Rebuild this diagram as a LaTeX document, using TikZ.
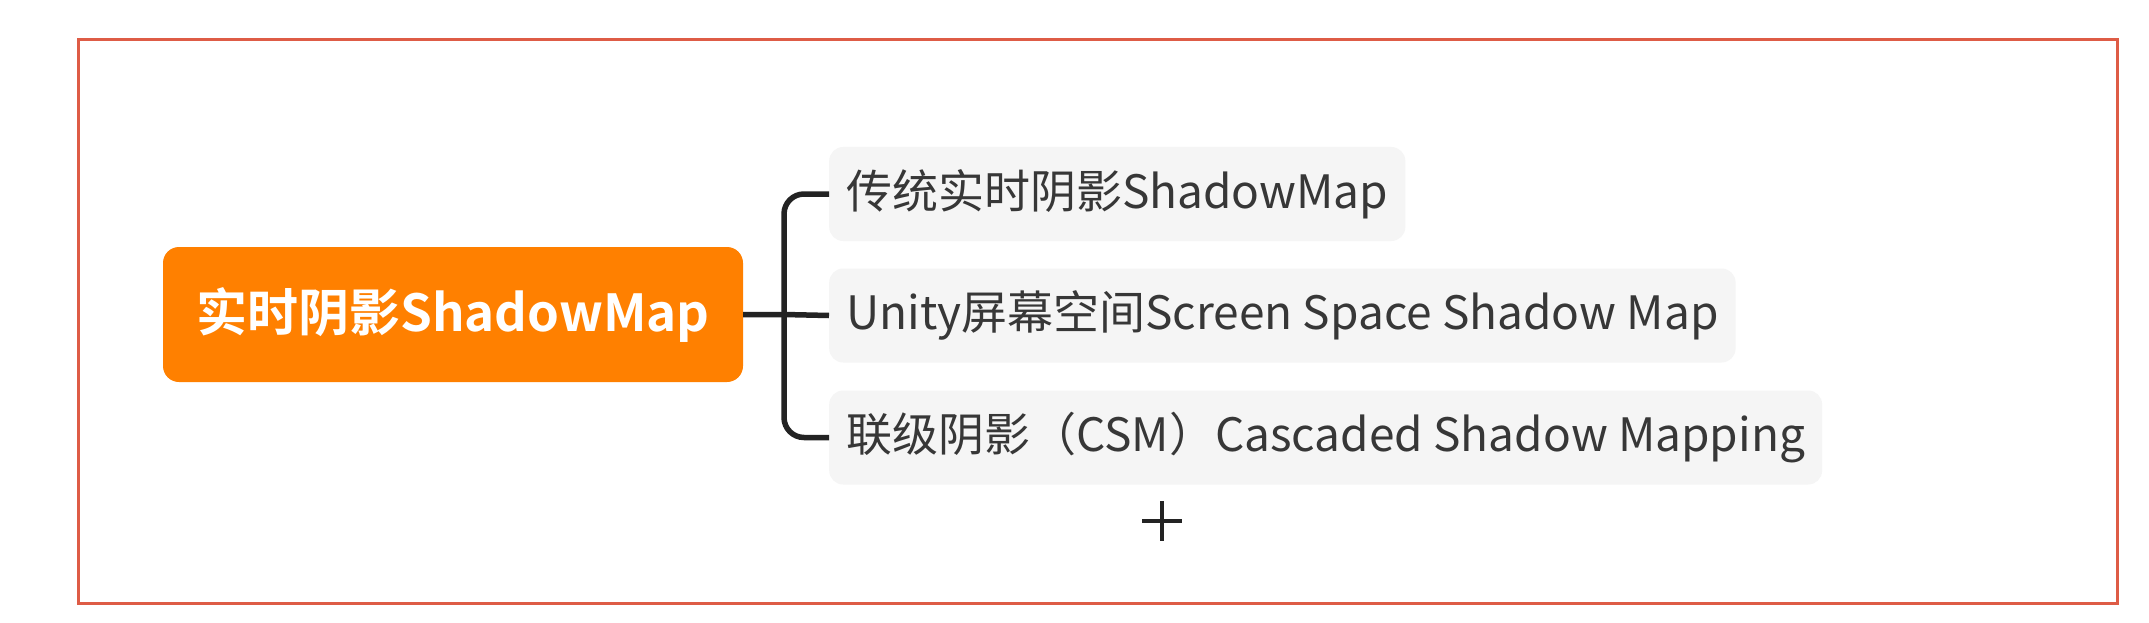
\documentclass[tikz,border=0pt]{standalone}
\usepackage{fontspec}
\usetikzlibrary{calc}
\setmainfont{Noto Sans CJK SC}[BoldFont={Noto Sans CJK SC Bold}]
\definecolor{frame}{RGB}{222,92,70}
\definecolor{rootorange}{RGB}{255,128,0}
\definecolor{childgray}{RGB}{245,245,245}
\definecolor{childtext}{RGB}{55,55,55}
\definecolor{linedark}{RGB}{35,35,35}
\tikzset{
  rootbox/.style={fill=rootorange, rounded corners=16pt, minimum width=580pt, minimum height=135pt,
    text=white, font=\fontsize{51}{60}\selectfont\bfseries, inner sep=0pt},
  childbox/.style={fill=childgray, rounded corners=14pt, anchor=west, minimum height=94pt,
    inner xsep=17pt, text=childtext, font=\fontsize{46}{54}\selectfont},
  branch/.style={draw=linedark, line width=5.5pt},
}
\begin{document}
\begin{tikzpicture}[x=1pt,y=-1pt]
\useasboundingbox[fill=white] (0,0) rectangle (2149,623);
\draw[frame, line width=3pt] (78,40) rectangle (2117,603);
\node[rootbox] (root) at (453,314.5) {实时阴影ShadowMap};
\node[childbox] (c1) at (829,194) {传统实时阴影ShadowMap};
\node[childbox] (c2) at (829,315.5) {Unity屏幕空间Screen Space Shadow Map};
\node[childbox] (c3) at (829,437.5) {联级阴影（CSM）Cascaded Shadow Mapping};
\coordinate (j) at (784,314.5);
\draw[branch] (root.east) -- (j) -- (c2.west);
\draw[branch, rounded corners=20pt] (c1.west) -| (j) |- (c3.west);
\coordinate (p) at (1162,521);
\draw[linedark, line width=4pt] ($(p)+(-20,0)$) -- ($(p)+(20,0)$) ($(p)+(0,-20)$) -- ($(p)+(0,20)$);
\end{tikzpicture}
\end{document}
